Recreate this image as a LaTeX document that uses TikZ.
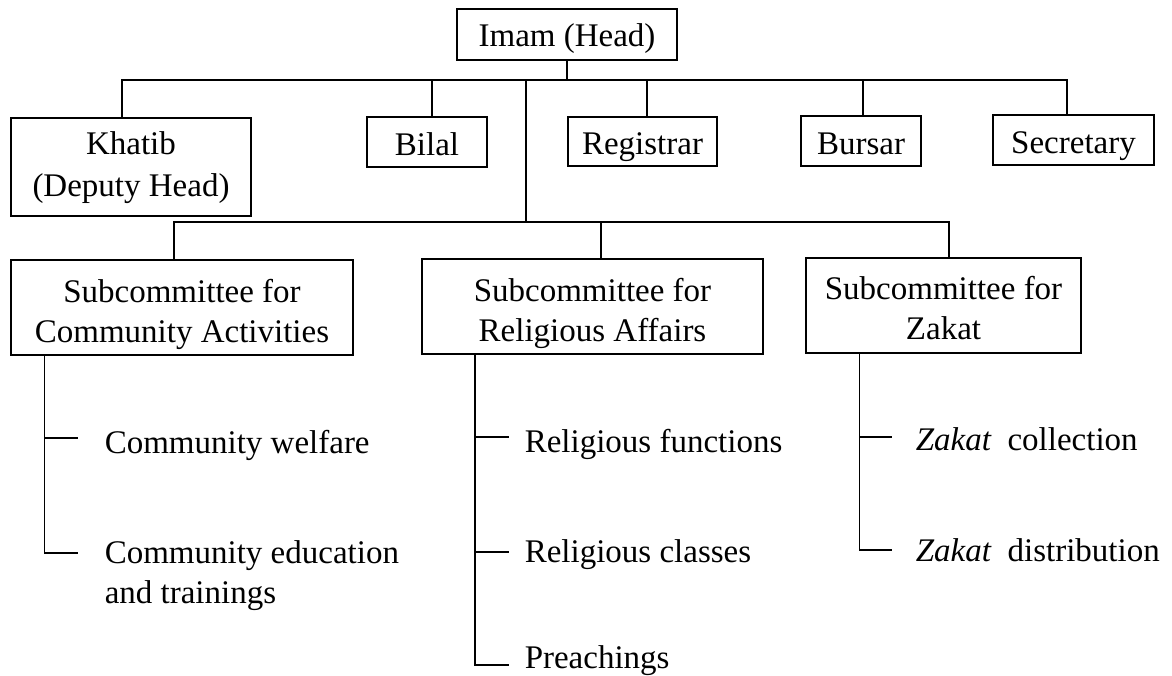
\documentclass[tikz,border=0pt]{standalone}
\usepackage{fontspec}
\setmainfont{Liberation Serif}
\newcommand{\lnst}[2]{\rule[-#2]{0pt}{\dimexpr#1+#2\relax}}
\begin{document}
\begin{tikzpicture}[x=1pt,y=1pt,
  line width=1.5pt,
  every node/.style={font=\fontsize{33}{40}\selectfont, inner sep=0pt},
  onebox/.style={draw, line width=1.5pt, minimum height=50pt, text height=27pt, text depth=0pt},
  twobox/.style={draw, line width=1.5pt, align=center, minimum height=95pt},
  item/.style={anchor=base west},
  wire/.style={line width=1.5pt}]
\fill[white] (0,0) rectangle (1172,-676);
\useasboundingbox (0,0) rectangle (1172,-676);

% top level
\node[onebox, minimum width=220pt, minimum height=51pt, text height=25pt] (imam) at (567,-34.5) {Imam (Head)};
\node[twobox, minimum width=240pt, minimum height=98pt] (khatib) at (131,-167) {\lnst{25pt}{0pt}Khatib\\[2pt](Deputy Head)};
\node[onebox, minimum width=120pt] (bilal) at (427,-142) {Bilal};
\node[onebox, minimum width=149pt, minimum height=49pt] (registrar) at (642.5,-141.5) {Registrar};
\node[onebox, minimum width=120pt] (bursar) at (861,-141) {Bursar};
\node[onebox, minimum width=161pt] (secretary) at (1073.5,-140) {Secretary};

% subcommittees
\node[twobox, minimum width=342pt] (cab) at (182,-307.5) {\lnst{38pt}{0pt}Subcommittee for\\Community Activities\lnst{0pt}{7pt}};
\node[twobox, minimum width=341pt] (rab) at (592.5,-306.5) {\lnst{38pt}{0pt}Subcommittee for\\Religious Affairs\lnst{0pt}{7pt}};
\node[twobox, minimum width=275pt] (zab) at (943.5,-305.5) {\lnst{29pt}{0pt}Subcommittee for\\Zakat};

% items
\node[item] (cw) at (104,-453) {Community welfare};
\node[anchor=north west, align=left] (ce) at (104,-539) {\lnst{24pt}{0pt}Community education\\and trainings};
\node[item] (rf) at (524,-452) {Religious functions};
\node[item] (rc) at (524,-562) {Religious classes};
\node[item] (rp) at (524,-668) {Preachings};
\node[item] (zc) at (915,-450) {\textit{Zakat}\hspace{16pt}collection};
\node[item] (zd) at (915,-561) {\textit{Zakat}\hspace{16pt}distribution};

% junction coordinates
\coordinate (tb) at (526,-80);
\coordinate (lb) at (526,-222);
\coordinate (ks) at ([xshift=-9pt]khatib.north);
\coordinate (bs) at ([xshift=5pt]bilal.north);
\coordinate (gs) at ([xshift=4.5pt]registrar.north);
\coordinate (us) at ([xshift=2pt]bursar.north);
\coordinate (ss) at ([xshift=-6.5pt]secretary.north);
\coordinate (cs) at ([xshift=-8pt]cab.north);
\coordinate (rs) at ([xshift=8.5pt]rab.north);
\coordinate (zs) at ([xshift=5.5pt]zab.north);

% top bar
\draw[wire] (imam.south) -- (imam.south |- tb);
\draw[wire] (ks) -- (ks |- tb) -- (ss |- tb) -- (ss);
\draw[wire] (bs) -- (bs |- tb);
\draw[wire] (gs) -- (gs |- tb);
\draw[wire] (us) -- (us |- tb);
\draw[wire] (tb) -- (lb);

% lower bar
\draw[wire] (cs) -- (cs |- lb) -- (zs |- lb) -- (zs);
\draw[wire] (rs) -- (rs |- lb);

% rails
\coordinate (crail) at ([xshift=34pt]cab.south west);
\coordinate (c1) at (78,-438);
\coordinate (c2) at (78,-553);
\draw[wire] (crail) |- (c2);
\draw[wire] (crail |- c1) -- (c1);

\coordinate (rrail) at ([xshift=53.5pt]rab.south west);
\coordinate (r1) at (509,-437);
\coordinate (r2) at (509,-552);
\coordinate (r3) at (509,-665);
\draw[wire] (rrail) |- (r3);
\draw[wire] (rrail |- r1) -- (r1);
\draw[wire] (rrail |- r2) -- (r2);

\coordinate (zrail) at ([xshift=54pt]zab.south west);
\coordinate (z1) at (892,-437);
\coordinate (z2) at (892,-550);
\draw[wire] (zrail) |- (z2);
\draw[wire] (zrail |- z1) -- (z1);
\end{tikzpicture}
\end{document}
